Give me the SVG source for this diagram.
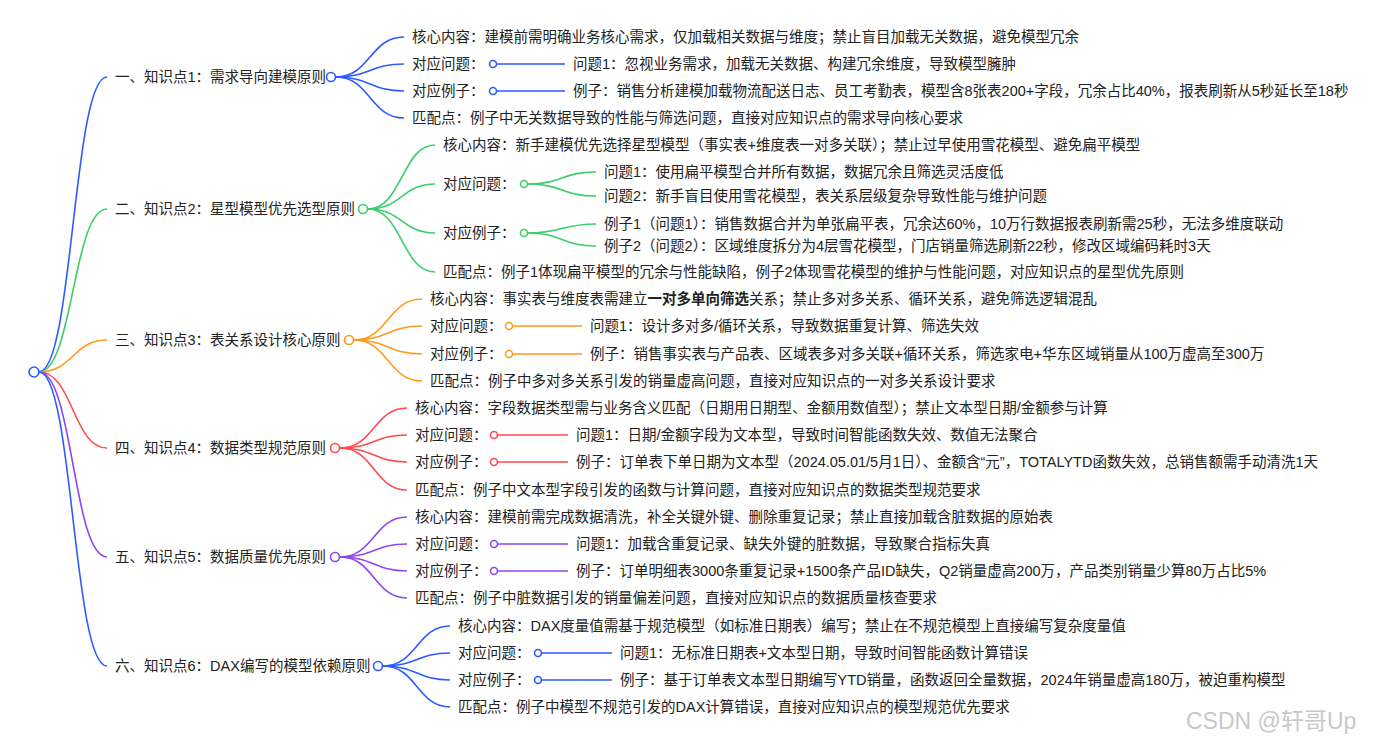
<svg xmlns="http://www.w3.org/2000/svg" width="1375" height="744" viewBox="0 0 1375 744">
<style>
text{font-family:"Liberation Sans","Noto Sans CJK SC",sans-serif;font-size:14.5px;fill:#222;dominant-baseline:central}
.wm{font-size:23px;fill:#c8c8c8;dominant-baseline:alphabetic}
path{fill:none;stroke-width:1.6}
circle{fill:#fff;stroke-width:1.6}
.bl{stroke:#2c5cff}.gr{stroke:#3ccd6c}.or{stroke:#ff9a1c}.rd{stroke:#ff4a4f}.pu{stroke:#8c48ec}
</style>
<rect width="1375" height="744" fill="#fff"/>
<g id="connectors">
<path class="bl" d="M39 372C73 372 73 77 107 77"/>
<path class="gr" d="M39 372C73 372 73 209 107 209"/>
<path class="or" d="M39 372C73 372 73 340 107 340"/>
<path class="rd" d="M39 372C73 372 73 448 107 448"/>
<path class="pu" d="M39 372C73 372 73 557 107 557"/>
<path class="bl" d="M39 372C73 372 73 666 107 666"/>
<path class="bl" d="M336 77C370 77 370 37 404 37"/>
<path class="bl" d="M336 77C370 77 370 64 404 64"/>
<path class="bl" d="M336 77C370 77 370 91 404 91"/>
<path class="bl" d="M336 77C370 77 370 118 404 118"/>
<path class="bl" d="M497 64H565M497 91H565"/>
<path class="gr" d="M368 209C402 209 402 145 435 145"/>
<path class="gr" d="M368 209C402 209 402 184 435 184"/>
<path class="gr" d="M368 209C402 209 402 233 435 233"/>
<path class="gr" d="M368 209C402 209 402 272 435 272"/>
<path class="gr" d="M528 184C562 184 562 172 596 172"/>
<path class="gr" d="M528 184C562 184 562 196 596 196"/>
<path class="gr" d="M528 233C562 233 562 224 596 224"/>
<path class="gr" d="M528 233C562 233 562 246 596 246"/>
<path class="or" d="M354 340C388 340 388 299 422 299"/>
<path class="or" d="M354 340C388 340 388 326 422 326"/>
<path class="or" d="M354 340C388 340 388 354 422 354"/>
<path class="or" d="M354 340C388 340 388 381 422 381"/>
<path class="or" d="M513 326H582M513 354H582"/>
<path class="rd" d="M340 448C374 448 374 408 407 408"/>
<path class="rd" d="M340 448C374 448 374 435 407 435"/>
<path class="rd" d="M340 448C374 448 374 462 407 462"/>
<path class="rd" d="M340 448C374 448 374 490 407 490"/>
<path class="rd" d="M498 435H568M498 462H568"/>
<path class="pu" d="M340 557C374 557 374 517 407 517"/>
<path class="pu" d="M340 557C374 557 374 544 407 544"/>
<path class="pu" d="M340 557C374 557 374 571 407 571"/>
<path class="pu" d="M340 557C374 557 374 598 407 598"/>
<path class="pu" d="M498 544H568M498 571H568"/>
<path class="bl" d="M383 666C417 666 417 626 450 626"/>
<path class="bl" d="M383 666C417 666 417 653 450 653"/>
<path class="bl" d="M383 666C417 666 417 680 450 680"/>
<path class="bl" d="M383 666C417 666 417 707 450 707"/>
<path class="bl" d="M542 653H612M542 680H612"/>
</g>
<g id="root"><circle class="bl" cx="34" cy="372" r="5"/></g>
<g id="b1">
<text x="115" y="77">一、知识点1：需求导向建模原则</text>
<circle class="bl" cx="331" cy="77" r="4.5"/>
<text x="412" y="37">核心内容：建模前需明确业务核心需求，仅加载相关数据与维度；禁止盲目加载无关数据，避免模型冗余</text>
<text x="412" y="64">对应问题：</text><circle class="bl" cx="493" cy="64" r="3.5"/>
<text x="573" y="64">问题1：忽视业务需求，加载无关数据、构建冗余维度，导致模型臃肿</text>
<text x="412" y="91">对应例子：</text><circle class="bl" cx="493" cy="91" r="3.5"/>
<text x="573" y="91">例子：销售分析建模加载物流配送日志、员工考勤表，模型含8张表200+字段，冗余占比40%，报表刷新从5秒延长至18秒</text>
<text x="412" y="118">匹配点：例子中无关数据导致的性能与筛选问题，直接对应知识点的需求导向核心要求</text>
</g>
<g id="b2">
<text x="115" y="209">二、知识点2：星型模型优先选型原则</text>
<circle class="gr" cx="363" cy="209" r="4.5"/>
<text x="443" y="145">核心内容：新手建模优先选择星型模型（事实表+维度表一对多关联）；禁止过早使用雪花模型、避免扁平模型</text>
<text x="443" y="184">对应问题：</text><circle class="gr" cx="524" cy="184" r="3.5"/>
<text x="604" y="172">问题1：使用扁平模型合并所有数据，数据冗余且筛选灵活度低</text>
<text x="604" y="196">问题2：新手盲目使用雪花模型，表关系层级复杂导致性能与维护问题</text>
<text x="443" y="233">对应例子：</text><circle class="gr" cx="524" cy="233" r="3.5"/>
<text x="604" y="224">例子1（问题1）：销售数据合并为单张扁平表，冗余达60%，10万行数据报表刷新需25秒，无法多维度联动</text>
<text x="604" y="246">例子2（问题2）：区域维度拆分为4层雪花模型，门店销量筛选刷新22秒，修改区域编码耗时3天</text>
<text x="443" y="272">匹配点：例子1体现扁平模型的冗余与性能缺陷，例子2体现雪花模型的维护与性能问题，对应知识点的星型优先原则</text>
</g>
<g id="b3">
<text x="115" y="340">三、知识点3：表关系设计核心原则</text>
<circle class="or" cx="349" cy="340" r="4.5"/>
<text x="430" y="299">核心内容：事实表与维度表需建立<tspan font-weight="bold">一对多单向筛选</tspan>关系；禁止多对多关系、循环关系，避免筛选逻辑混乱</text>
<text x="430" y="326">对应问题：</text><circle class="or" cx="509" cy="326" r="3.5"/>
<text x="590" y="326">问题1：设计多对多/循环关系，导致数据重复计算、筛选失效</text>
<text x="430" y="354">对应例子：</text><circle class="or" cx="509" cy="354" r="3.5"/>
<text x="590" y="354">例子：销售事实表与产品表、区域表多对多关联+循环关系，筛选家电+华东区域销量从100万虚高至300万</text>
<text x="430" y="381">匹配点：例子中多对多关系引发的销量虚高问题，直接对应知识点的一对多关系设计要求</text>
</g>
<g id="b4">
<text x="115" y="448">四、知识点4：数据类型规范原则</text>
<circle class="rd" cx="335" cy="448" r="4.5"/>
<text x="415" y="408">核心内容：字段数据类型需与业务含义匹配（日期用日期型、金额用数值型）；禁止文本型日期/金额参与计算</text>
<text x="415" y="435">对应问题：</text><circle class="rd" cx="494" cy="435" r="3.5"/>
<text x="576" y="435">问题1：日期/金额字段为文本型，导致时间智能函数失效、数值无法聚合</text>
<text x="415" y="462">对应例子：</text><circle class="rd" cx="494" cy="462" r="3.5"/>
<text x="576" y="462">例子：订单表下单日期为文本型（2024.05.01/5月1日）、金额含“元”，TOTALYTD函数失效，总销售额需手动清洗1天</text>
<text x="415" y="490">匹配点：例子中文本型字段引发的函数与计算问题，直接对应知识点的数据类型规范要求</text>
</g>
<g id="b5">
<text x="115" y="557">五、知识点5：数据质量优先原则</text>
<circle class="pu" cx="335" cy="557" r="4.5"/>
<text x="415" y="517">核心内容：建模前需完成数据清洗，补全关键外键、删除重复记录；禁止直接加载含脏数据的原始表</text>
<text x="415" y="544">对应问题：</text><circle class="pu" cx="494" cy="544" r="3.5"/>
<text x="576" y="544">问题1：加载含重复记录、缺失外键的脏数据，导致聚合指标失真</text>
<text x="415" y="571">对应例子：</text><circle class="pu" cx="494" cy="571" r="3.5"/>
<text x="576" y="571">例子：订单明细表3000条重复记录+1500条产品ID缺失，Q2销量虚高200万，产品类别销量少算80万占比5%</text>
<text x="415" y="598">匹配点：例子中脏数据引发的销量偏差问题，直接对应知识点的数据质量核查要求</text>
</g>
<g id="b6">
<text x="115" y="666">六、知识点6：DAX编写的模型依赖原则</text>
<circle class="bl" cx="378" cy="666" r="4.5"/>
<text x="458" y="626">核心内容：DAX度量值需基于规范模型（如标准日期表）编写；禁止在不规范模型上直接编写复杂度量值</text>
<text x="458" y="653">对应问题：</text><circle class="bl" cx="538" cy="653" r="3.5"/>
<text x="620" y="653">问题1：无标准日期表+文本型日期，导致时间智能函数计算错误</text>
<text x="458" y="680">对应例子：</text><circle class="bl" cx="538" cy="680" r="3.5"/>
<text x="620" y="680">例子：基于订单表文本型日期编写YTD销量，函数返回全量数据，2024年销量虚高180万，被迫重构模型</text>
<text x="458" y="707">匹配点：例子中模型不规范引发的DAX计算错误，直接对应知识点的模型规范优先要求</text>
</g>
<text class="wm" x="1186" y="729">CSDN @轩哥Up</text>
</svg>
